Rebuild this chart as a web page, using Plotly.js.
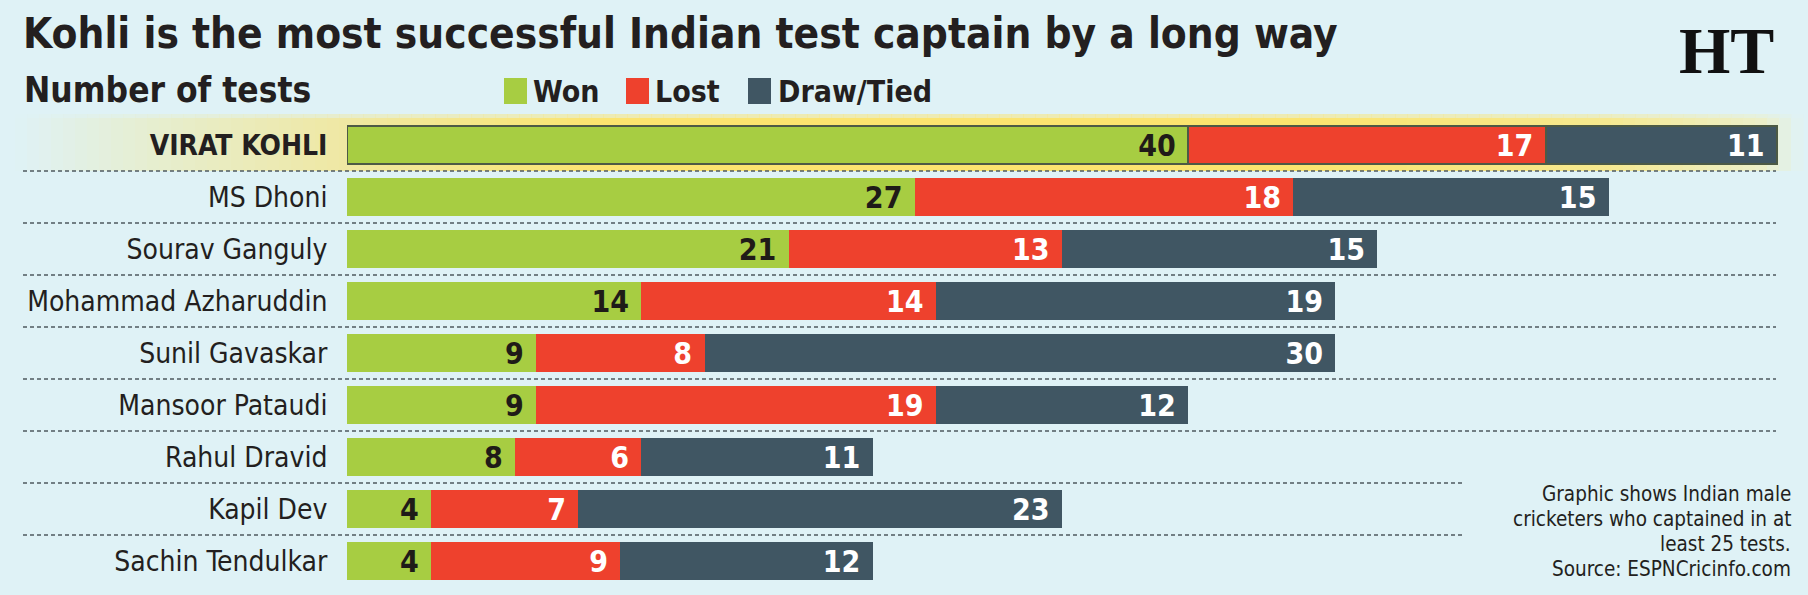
<!DOCTYPE html>
<html>
<head>
<meta charset="utf-8">
<script src="https://cdn.plot.ly/plotly-3.0.1.min.js"></script>
<style>
  html, body { margin: 0; padding: 0; background: #dff2f6; }
  #chart { width: 1808px; height: 595px; }
</style>
</head>
<body>
<div id="chart"></div>
<script>
// ---------------- data ----------------
const captains = ["VIRAT KOHLI", "MS Dhoni", "Sourav Ganguly", "Mohammad Azharuddin",
                  "Sunil Gavaskar", "Mansoor Pataudi", "Rahul Dravid", "Kapil Dev", "Sachin Tendulkar"];
const won   = [40, 27, 21, 14, 9, 9, 8, 4, 4];
const lost  = [17, 18, 13, 14, 8, 19, 6, 7, 9];
const drawn = [11, 15, 15, 19, 30, 12, 11, 23, 12];
const seriesNames = ["Won", "Lost", "Draw/Tied"];
const titleText = "Kohli is the most successful Indian test captain by a long way";
const subtitleText = "Number of tests";
const noteLines = ["Graphic shows Indian male", "cricketers who captained in at", "least 25 tests.", "Source: ESPNCricinfo.com"];

// ---------------- style ----------------
const BG = "#dff2f6";
const COLORS = ["#a7cd42", "#ee412d", "#405663"];
const LABEL_COLORS = ["#1f1b18", "#ffffff", "#ffffff"];
const NARROW = '"Liberation Sans Narrow", "Arial Narrow", "DejaVu Sans Condensed", sans-serif';
const SERIF = '"Liberation Serif", "DejaVu Serif", serif';
const INK = "#231f20";

const W = 1808, H = 595;
const M = { l: 347, r: 0, t: 119, b: 8 };
const PW = W - M.l - M.r, PH = H - M.t - M.b;
const xp = px => (px - M.l) / PW;
const yp = py => (H - M.b - py) / PH;

const NB = "\u00A0";
const highlight = captains.map((c, i) => i === 0 ? 2 : 0);

const seriesData = [won, lost, drawn];
const traces = seriesData.map((vals, k) => ({
  type: "bar",
  orientation: "h",
  name: seriesNames[k],
  y: captains,
  x: vals,
  width: 0.73,
  marker: { color: COLORS[k], line: { color: "#4d5a45", width: highlight } },
  text: vals.map(v => String(v) + NB),
  textposition: "inside",
  insidetextanchor: "end",
  textangle: 0,
  constraintext: "none",
  cliponaxis: false,
  textfont: { family: NARROW, size: 30, weight: 700, color: LABEL_COLORS[k] },
  hoverinfo: "x+y+name",
  showlegend: false
}));

// ---------------- decorative shapes ----------------
const shapes = [];
// highlight band behind the first row (horizontal gradient, built from strips)
const bandStops = [[15, BG], [150, "#e6eed0"], [340, "#efe8a4"], [600, "#fbe46f"],
                   [1300, "#fbe46f"], [1600, "#f6e88e"], [1760, "#ecefc8"], [1802, BG]];
function hex2rgb(h) { return [1, 3, 5].map(i => parseInt(h.substr(i, 2), 16)); }
function colorAt(x) {
  for (let i = 0; i < bandStops.length - 1; i++) {
    const [x0, c0] = bandStops[i], [x1, c1] = bandStops[i + 1];
    if (x >= x0 && x <= x1) {
      const t = (x - x0) / (x1 - x0);
      const a = hex2rgb(c0), b = hex2rgb(c1);
      return "rgb(" + a.map((v, j) => Math.round(v + (b[j] - v) * t)).join(",") + ")";
    }
  }
  return BG;
}
const STEP = 12;
for (let x = 15; x < 1802; x += STEP) {
  const c = colorAt(x + STEP / 2);
  shapes.push({ type: "rect", layer: "below", xref: "paper", yref: "paper",
    x0: xp(x), x1: xp(x + STEP + 0.5), y0: yp(171), y1: yp(118),
    fillcolor: c, line: { width: 0 } });
  shapes.push({ type: "rect", layer: "below", xref: "paper", yref: "paper",
    x0: xp(x), x1: xp(x + STEP + 0.5), y0: yp(118), y1: yp(114),
    fillcolor: c, opacity: 0.5, line: { width: 0 } });
}
// dashed row separators
const n = captains.length;
for (let k = 1; k < n; k++) {
  const rowBelow = n - k;            // index of the row just below this separator
  const xEnd = rowBelow >= 7 ? 1465 : 1776;
  shapes.push({ type: "line", xref: "paper", yref: "paper",
    x0: xp(23), x1: xp(xEnd), y0: k / n, y1: k / n,
    line: { color: "#4f5a5f", width: 1.3, dash: "4px,3px" } });
}
// legend swatches
const swatchX = [504, 626, 748];
swatchX.forEach((x, k) => shapes.push({ type: "rect", xref: "paper", yref: "paper",
  x0: xp(x), x1: xp(x + 23), y0: yp(104), y1: yp(78),
  fillcolor: COLORS[k], line: { width: 0 } }));

// ---------------- annotations ----------------
const annotations = [];
annotations.push({ text: subtitleText, xref: "paper", yref: "paper", x: xp(22), y: yp(90),
  xanchor: "left", yanchor: "middle", showarrow: false,
  font: { family: NARROW, size: 35, weight: 700, color: INK } });
const legendTextX = [531, 653, 776];
seriesNames.forEach((s, k) => annotations.push({ text: s, xref: "paper", yref: "paper",
  x: xp(legendTextX[k]), y: yp(91), xanchor: "left", yanchor: "middle", showarrow: false,
  font: { family: NARROW, size: 30, weight: 700, color: INK } }));
noteLines.forEach((t, i) => annotations.push({ text: t, xref: "paper", yref: "paper",
  x: xp(1793), y: yp(494 + 25 * i), xanchor: "right", yanchor: "middle", showarrow: false,
  font: { family: NARROW, size: 20.5, color: INK } }));
annotations.push({ text: "HT", xref: "paper", yref: "paper", x: xp(1726), y: yp(50),
  xanchor: "center", yanchor: "middle", showarrow: false,
  font: { family: SERIF, size: 66, weight: 700, color: "#111111" } });

const layout = {
  width: W, height: H,
  margin: M,
  paper_bgcolor: BG, plot_bgcolor: "rgba(0,0,0,0)",
  barmode: "stack",
  title: { text: titleText, xref: "container", yref: "container",
    x: 23 / W, xanchor: "left", y: 1 - 19 / H, yanchor: "top",
    font: { family: NARROW, size: 42, weight: 700, color: INK } },
  xaxis: { range: [0, PW / 21.03], visible: false, fixedrange: true },
  yaxis: {
    type: "category", range: [n - 0.5, -0.5], automargin: false,
    tickmode: "array", tickvals: captains,
    ticktext: captains.map((c, i) => i === 0 ? "<b>" + c + "</b>" : c),
    ticks: "outside", ticklen: 13, tickcolor: "rgba(0,0,0,0)",
    showgrid: false, zeroline: false, showline: false,
    tickfont: { family: NARROW, size: 28, color: INK }, fixedrange: true
  },
  shapes: shapes,
  annotations: annotations,
  showlegend: false,
  hovermode: "closest"
};

Plotly.newPlot("chart", traces, layout, { displayModeBar: false });
</script>
</body>
</html>
